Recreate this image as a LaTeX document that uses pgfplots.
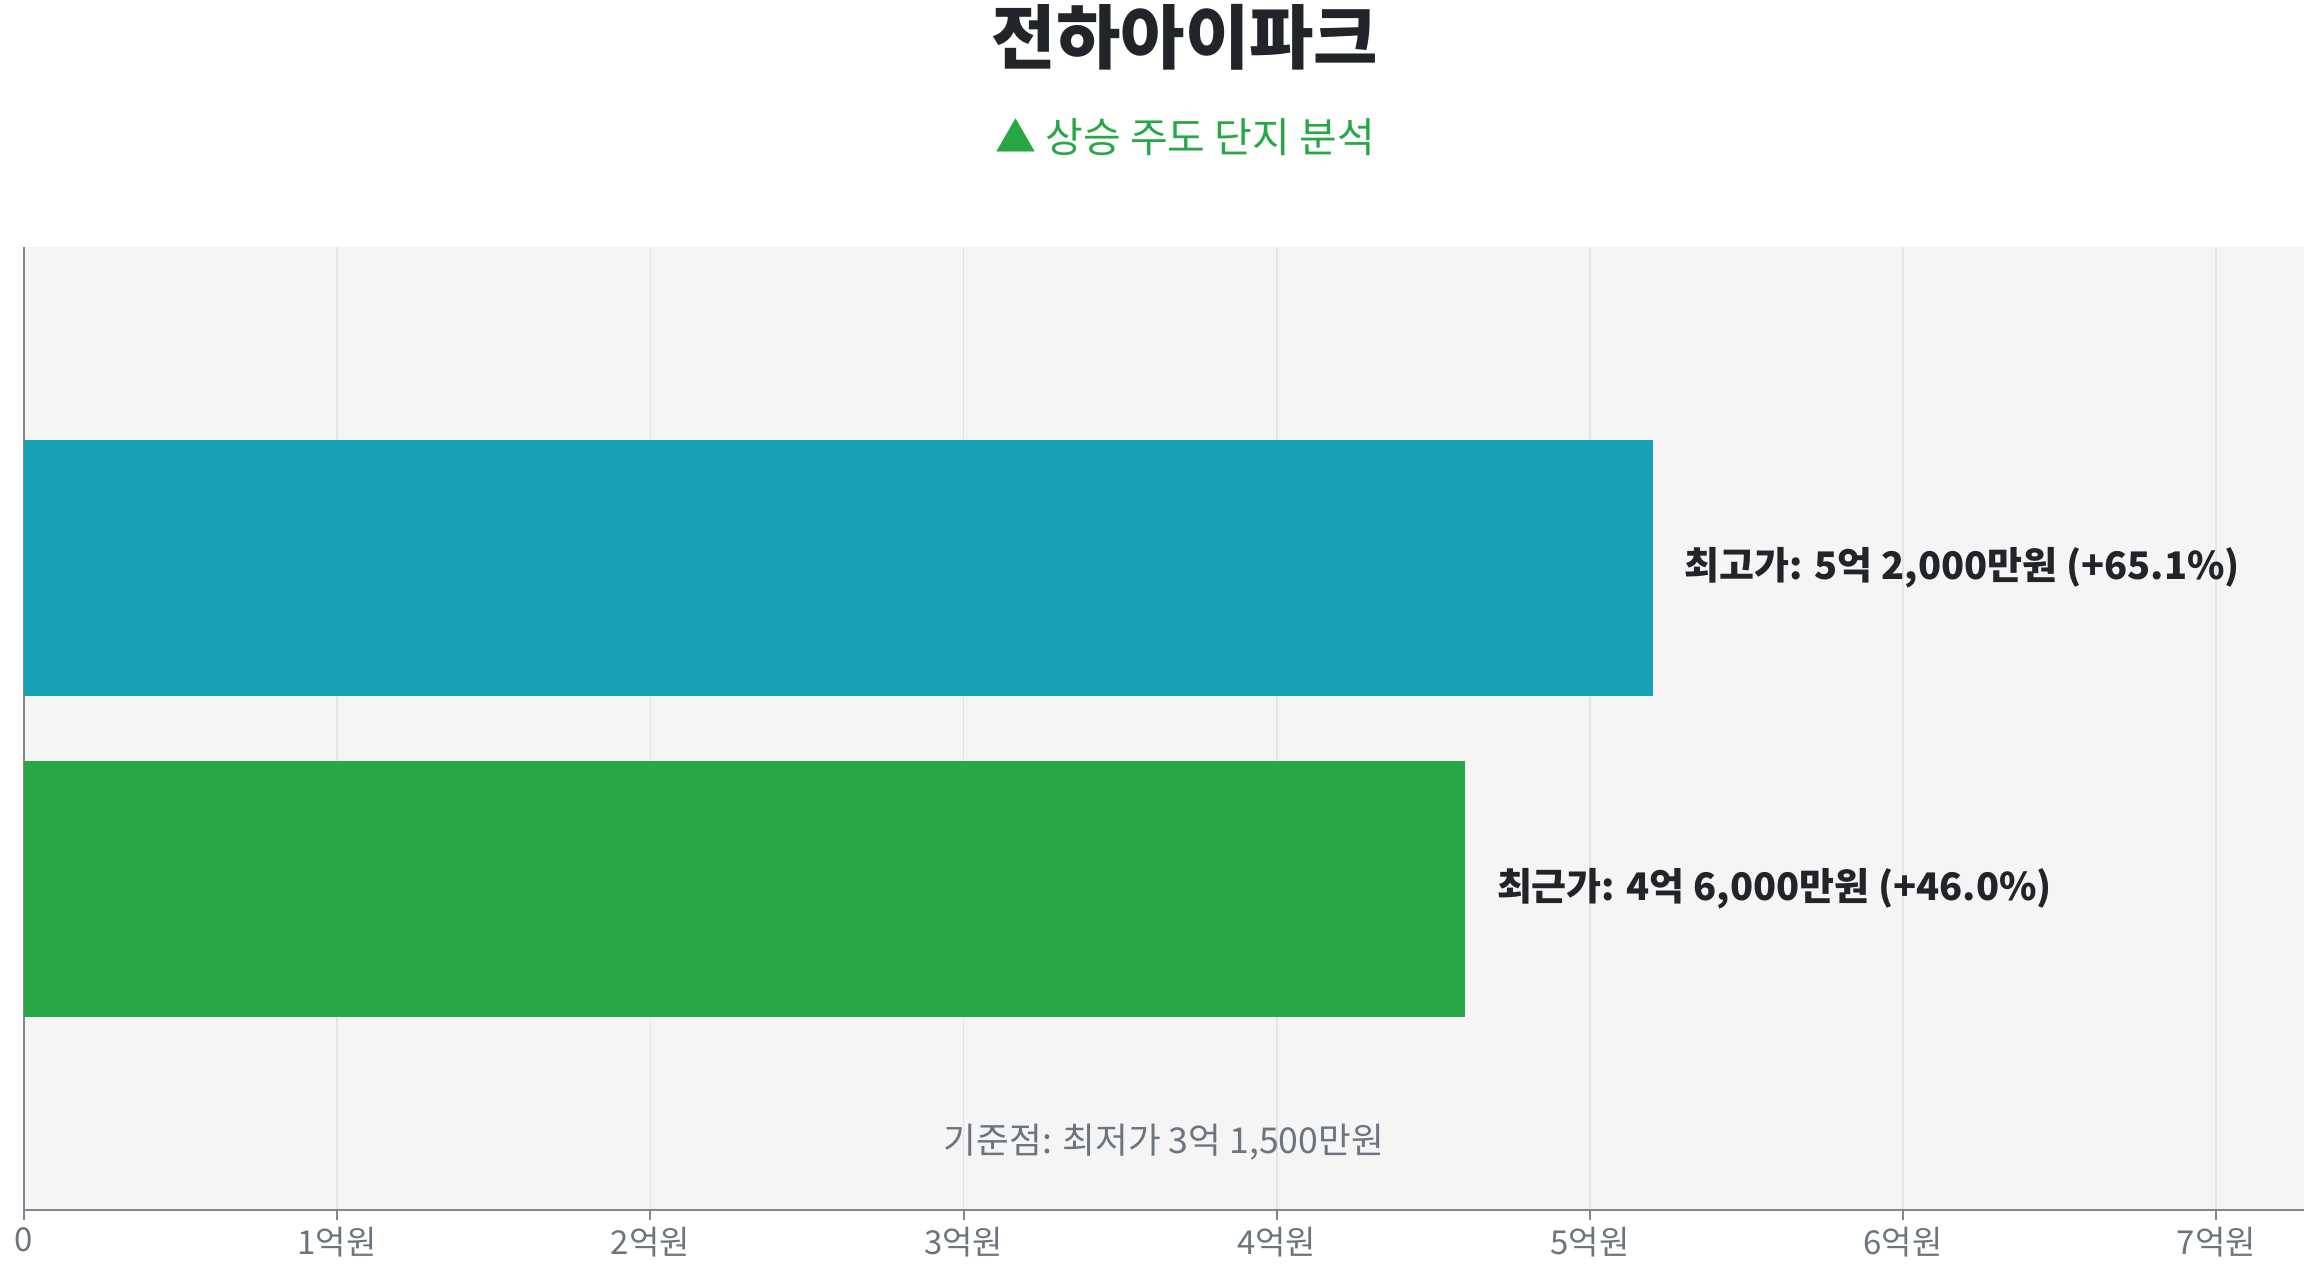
\documentclass[border=0pt]{standalone}
\usepackage{fontspec}
\setmainfont{Noto Sans CJK KR}
\usepackage{pgfplots}
\pgfplotsset{compat=1.18}
\definecolor{barteal}{HTML}{17A2B8}
\definecolor{bargreen}{HTML}{28A745}
\definecolor{titlecol}{HTML}{212529}
\definecolor{tickcol}{HTML}{6C757D}
\definecolor{axiscol}{HTML}{80858F}
\definecolor{plotbg}{HTML}{F5F5F5}
\definecolor{gridcol}{HTML}{E4E4E4}
\begin{document}
\begin{tikzpicture}
\path[use as bounding box] (-12pt,-29pt) rectangle (1141.5pt,605pt);
\begin{axis}[
  scale only axis, width=1140pt, height=481.5pt,
  at={(0,0)}, anchor=south west,
  xmin=0, xmax=7.28, ymin=-1, ymax=2,
  enlargelimits=false,
  axis lines=left, axis line style={draw=axiscol, line width=1pt, -},
  axis background/.style={fill=plotbg},
  xtick={0,1,2,3,4,5,6,7},
  xticklabels={0,1억원,2억원,3억원,4억원,5억원,6억원,7억원},
  ytick=\empty,
  tick align=outside, major tick length=5pt,
  x tick style={draw=axiscol, line width=1pt},
  xticklabel style={font=\fontsize{16.5}{18}\selectfont, text=tickcol},
  xmajorgrids, grid style={draw=gridcol, line width=0.8pt},
  every node near coord/.append style={anchor=west, xshift=16pt, inner sep=0pt,
    font=\bfseries\fontsize{19}{22}\selectfont, text=titlecol},
]
\addplot[xbar, bar width=128pt, bar shift=0pt, fill=barteal, draw=none,
  nodes near coords={최고가: 5억 2,000만원 (+65.1\%)}] coordinates {(5.2,1)};
\addplot[xbar, bar width=128pt, bar shift=0pt, fill=bargreen, draw=none,
  nodes near coords={최근가: 4억 6,000만원 (+46.0\%)}] coordinates {(4.6,0)};
\node[font=\fontsize{17.8}{20}\selectfont, text=tickcol] at (rel axis cs:0.5,0.07)
  {기준점: 최저가 3억 1,500만원};
\end{axis}
\node[font=\bfseries\fontsize{35}{40}\selectfont, text=titlecol] at (580.5pt,586.5pt) {전하아이파크};
\node[font=\fontsize{20.5}{23}\selectfont, text=bargreen] at (580.5pt,536.2pt) {▲ 상승 주도 단지 분석};
\end{tikzpicture}
\end{document}
